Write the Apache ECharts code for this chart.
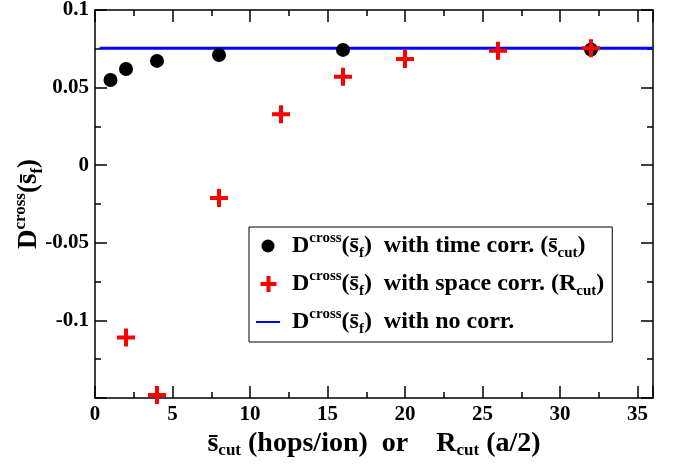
<!DOCTYPE html>
<html>
<head>
<meta charset="utf-8">
<script src="https://cdn.jsdelivr.net/npm/echarts@6/dist/echarts.min.js"></script>
<style>
  html, body { margin: 0; padding: 0; background: #fff; }
  #chart { width: 676px; height: 474px; }
</style>
</head>
<body>
<div id="chart"></div>
<script>
// D^cross(s_f) with time correlation cut-off (s_cut)
const timeCutX = [1, 2, 4, 8, 16, 32];
const timeCutY = [0.0549, 0.0620, 0.0672, 0.0710, 0.0743, 0.0745];

// D^cross(s_f) with space correlation cut-off (R_cut)
const spaceCutX = [2, 4, 8, 12, 16, 20, 26, 32];
const spaceCutY = [-0.111, -0.148, -0.0212, 0.0328, 0.0570, 0.0684, 0.0738, 0.0753];

// D^cross(s_f) without any correction (constant level)
const noCorrX = [0.3, 36];
const noCorrY = [0.0753, 0.0753];

// Tick labels
const xTickLabels = ['0', '5', '10', '15', '20', '25', '30', '35'];
const yTickLabels = ['-0.1', '-0.05', '0', '0.05', '0.1'];

const SERIF = "'Liberation Serif', 'Times New Roman', serif";
const BAR = 's\u0304';

function richSet(main, small, lh) {
  const base = { fontFamily: SERIF, fontWeight: 'bold', color: '#000' };
  return {
    m:   { ...base, fontSize: main, lineHeight: lh },
    sup: { ...base, fontSize: small, lineHeight: small, verticalAlign: 'top' },
    sub: { ...base, fontSize: small, lineHeight: small, verticalAlign: 'bottom' }
  };
}

const dHead = '{m|D}{sup|cross}{m|(' + BAR + '}{sub|f}{m|)}';

const legendText = {
  'time':  dHead + '{m|  with time corr. (' + BAR + '}{sub|cut}{m|)}',
  'space': dHead + '{m|  with space corr. (R}{sub|cut}{m|)}',
  'none':  dHead + '{m|  with no corr.}'
};

const pair = (xs, ys) => xs.map((x, i) => [x, ys[i]]);
const findLabel = (labels, v) => {
  const hit = labels.find(l => Math.abs(Number(l) - v) < 1e-9);
  return hit === undefined ? '' : hit;
};

const PLUS = 'path://M7,0 H11 V7 H18 V11 H11 V18 H7 V11 H0 V7 H7 Z';
const ICON_DOT = 'path://M0,0 M26,18 M6.5,9 A6.5,6.5 0 1 1 19.5,9 A6.5,6.5 0 1 1 6.5,9 Z';
const ICON_PLUS = 'path://M0,0 M26,18 M11.5,1 H15.5 V7 H21.5 V11 H15.5 V17 H11.5 V11 H5.5 V7 H11.5 Z';
const ICON_LINE = 'path://M0,0 M26,18 M1,8 H25 V10 H1 Z';

const axisLine = { show: true, onZero: false, lineStyle: { color: '#000', width: 1.5 } };
const noLine = { show: false, onZero: false };
const tickStyle = { color: '#000', width: 1.5 };
const labelStyle = { color: '#000', fontFamily: SERIF, fontWeight: 'bold', fontSize: 21 };

// frame axis helper: ticks pointing into the plot, no labels
function frameAxis(position, min, max, interval, len, withLine, minor) {
  const a = {
    type: 'value', position, min, max, interval,
    axisLine: withLine ? axisLine : noLine,
    axisTick: { show: true, inside: true, length: len, lineStyle: tickStyle },
    axisLabel: { show: false }, splitLine: { show: false }
  };
  if (minor) a.minorTick = { show: true, splitNumber: 2, length: 6, lineStyle: tickStyle };
  return a;
}

const chart = echarts.init(document.getElementById('chart'), null, { renderer: 'canvas' });

chart.setOption({
  animation: false,
  backgroundColor: '#fff',
  grid: { left: 95, right: 23, top: 10, bottom: 76, containLabel: false, outerBoundsMode: 'none' },
  xAxis: [
    {
      type: 'value', position: 'bottom', min: 0, max: 36, interval: 5,
      axisLine: axisLine,
      axisTick: { show: true, inside: true, length: 12, lineStyle: tickStyle },
      axisLabel: { ...labelStyle, margin: 6, formatter: v => findLabel(xTickLabels, v) },
      splitLine: { show: false },
      name: '{m|' + BAR + '}{sub|cut}{m| (hops/ion)  or    R}{sub|cut}{m| (a/2)}',
      nameLocation: 'middle', nameGap: 31, nameMoveOverlap: false,
      nameTextStyle: { rich: richSet(28, 17, 30) }
    },
    frameAxis('bottom', 0, 36, 2.5, 6, false, false),
    frameAxis('top', 0, 36, 5, 12, true, false),
    frameAxis('top', 0, 36, 2.5, 6, false, false)
  ],
  yAxis: [
    {
      type: 'value', position: 'left', min: -0.15, max: 0.1, interval: 0.05,
      axisLine: axisLine,
      axisTick: { show: true, inside: true, length: 12, lineStyle: tickStyle },
      minorTick: { show: true, splitNumber: 2, length: 6, lineStyle: tickStyle },
      axisLabel: { ...labelStyle, margin: 6, formatter: v => findLabel(yTickLabels, v) },
      splitLine: { show: false },
      name: dHead, nameLocation: 'middle', nameGap: 49, nameRotate: 90, nameMoveOverlap: false,
      nameTextStyle: { rich: richSet(27, 17, 34) }
    },
    frameAxis('right', -0.15, 0.1, 0.05, 12, true, true)
  ],
  legend: {
    orient: 'vertical',
    left: 249, top: 227,
    padding: [4, 8, 5, 6],
    itemGap: 8,
    itemWidth: 26, itemHeight: 18,
    borderColor: '#000', borderWidth: 1,
    selectedMode: false,
    formatter: name => legendText[name],
    textStyle: { rich: richSet(24, 15, 30), padding: [0, 0, 0, 6] },
    data: [
      { name: 'time', icon: ICON_DOT, itemStyle: { color: '#000' } },
      { name: 'space', icon: ICON_PLUS, itemStyle: { color: '#ff0000' } },
      { name: 'none', icon: ICON_LINE, itemStyle: { color: '#0000ff' } }
    ]
  },
  series: [
    {
      name: 'none', type: 'line', xAxisIndex: 0, yAxisIndex: 0,
      data: pair(noCorrX, noCorrY),
      symbol: 'none', lineStyle: { color: '#0000ff', width: 3 },
      itemStyle: { color: '#0000ff' }, z: 1
    },
    {
      name: 'time', type: 'scatter', xAxisIndex: 0, yAxisIndex: 0,
      data: pair(timeCutX, timeCutY),
      symbol: 'circle', symbolSize: 14,
      itemStyle: { color: '#000', opacity: 1 }, z: 2
    },
    {
      name: 'space', type: 'scatter', xAxisIndex: 0, yAxisIndex: 0,
      data: pair(spaceCutX, spaceCutY),
      symbol: PLUS, symbolSize: 18,
      itemStyle: { color: '#ff0000', opacity: 1 }, z: 3
    }
  ]
});
</script>
</body>
</html>
